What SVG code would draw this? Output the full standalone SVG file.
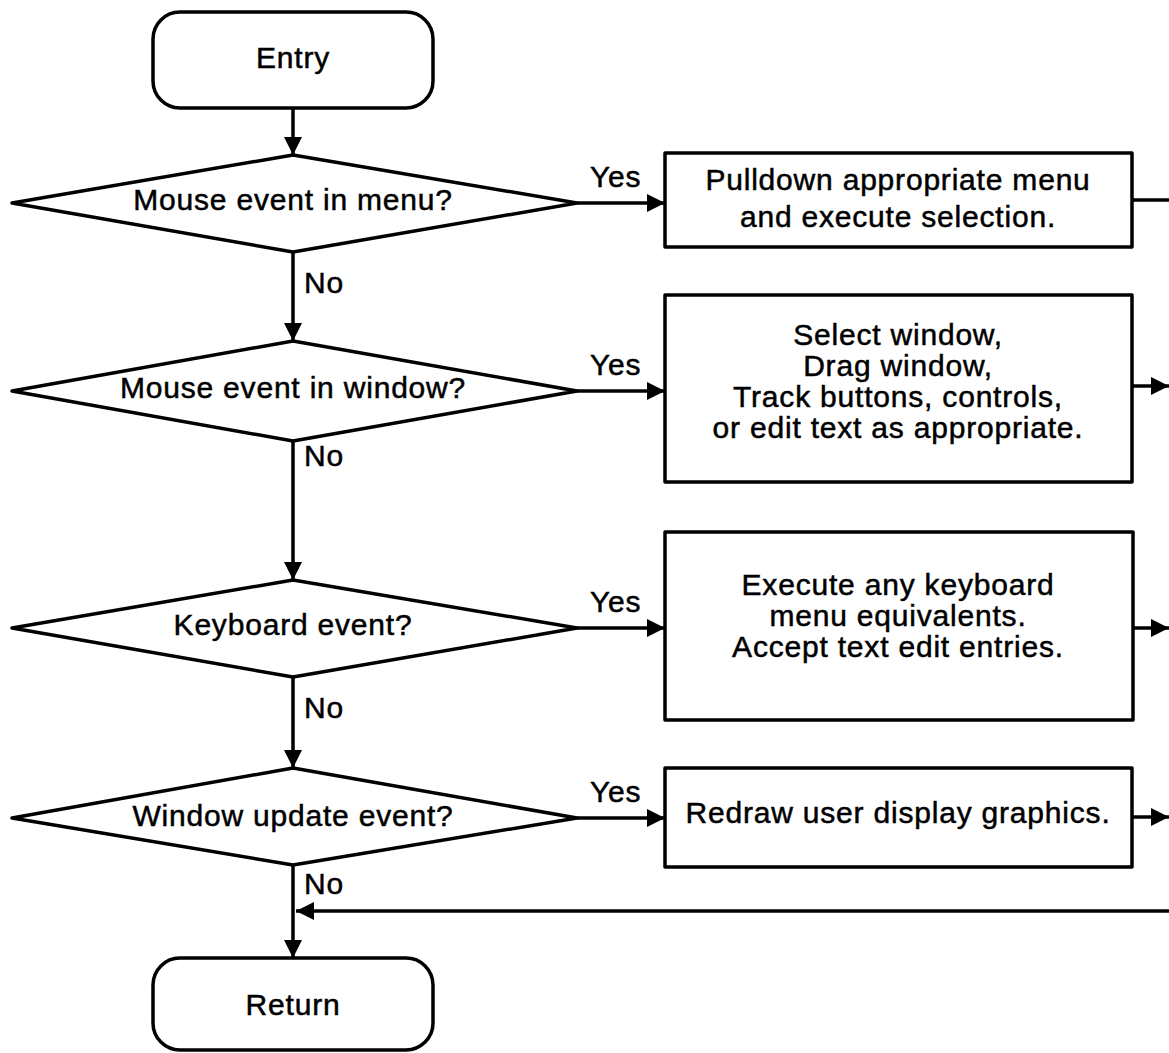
<svg xmlns="http://www.w3.org/2000/svg" width="1169" height="1053" viewBox="0 0 1169 1053">
<style>
  .shape { fill: #fff; stroke: #000; stroke-width: 3.5; stroke-linejoin: round; }
  .line { fill: none; stroke: #000; stroke-width: 3.5; }
  text { font-family: "Liberation Sans", Arial, sans-serif; font-size: 30px; fill: #000; stroke: #000; stroke-width: 0.5; letter-spacing: 0.8px; }
  .c { text-anchor: middle; }
</style>
<defs>
  <marker id="arrow" markerUnits="userSpaceOnUse" markerWidth="18" markerHeight="18" refX="18" refY="9" orient="auto">
    <path d="M0,0 L18,9 L0,18 z" fill="#000"/>
  </marker>
</defs>
<rect width="1169" height="1053" fill="#fff"/>

<g id="connectors">
  <line class="line" x1="293" y1="108" x2="293" y2="155" marker-end="url(#arrow)"/>
  <line class="line" x1="293" y1="252" x2="293" y2="341" marker-end="url(#arrow)"/>
  <line class="line" x1="293" y1="441" x2="293" y2="580" marker-end="url(#arrow)"/>
  <line class="line" x1="293" y1="677" x2="293" y2="768" marker-end="url(#arrow)"/>
  <line class="line" x1="293" y1="865" x2="293" y2="958" marker-end="url(#arrow)"/>
  <line class="line" x1="577" y1="203" x2="665" y2="203" marker-end="url(#arrow)"/>
  <line class="line" x1="577" y1="391" x2="665" y2="391" marker-end="url(#arrow)"/>
  <line class="line" x1="577" y1="628" x2="665" y2="628" marker-end="url(#arrow)"/>
  <line class="line" x1="577" y1="818" x2="665" y2="818" marker-end="url(#arrow)"/>
  <line class="line" x1="1132" y1="200" x2="1169" y2="200"/>
  <line class="line" x1="1132" y1="386" x2="1169" y2="386" marker-end="url(#arrow)"/>
  <line class="line" x1="1133" y1="628" x2="1169" y2="628" marker-end="url(#arrow)"/>
  <line class="line" x1="1132" y1="817" x2="1169" y2="817" marker-end="url(#arrow)"/>
  <line class="line" x1="1169" y1="911" x2="296" y2="911" marker-end="url(#arrow)"/>
  <text x="590" y="187">Yes</text>
  <text x="590" y="375">Yes</text>
  <text x="590" y="612">Yes</text>
  <text x="590" y="802">Yes</text>
  <text x="304" y="293">No</text>
  <text x="304" y="466">No</text>
  <text x="304" y="718">No</text>
  <text x="304" y="894">No</text>
</g>

<g id="entry">
  <rect class="shape" x="153" y="12" width="280" height="96" rx="27"/>
  <text class="c" x="293" y="68">Entry</text>
</g>

<g id="d1">
  <polygon class="shape" points="12,203 293,155 577,203 293,252"/>
  <text class="c" x="293" y="210">Mouse event in menu?</text>
</g>
<g id="d2">
  <polygon class="shape" points="12,391 293,341 577,391 293,441"/>
  <text class="c" x="293" y="398">Mouse event in window?</text>
</g>
<g id="d3">
  <polygon class="shape" points="12,628 293,580 577,628 293,677"/>
  <text class="c" x="293" y="635">Keyboard event?</text>
</g>
<g id="d4">
  <polygon class="shape" points="12,818 293,768 577,818 293,865"/>
  <text class="c" x="293" y="826">Window update event?</text>
</g>

<g id="b1">
  <rect class="shape" x="665" y="153" width="467" height="94"/>
  <text class="c" x="898" y="190">Pulldown appropriate menu</text>
  <text class="c" x="898" y="227">and execute selection.</text>
</g>
<g id="b2">
  <rect class="shape" x="665" y="295" width="467" height="187"/>
  <text class="c" x="898" y="345">Select window,</text>
  <text class="c" x="898" y="376">Drag window,</text>
  <text class="c" x="898" y="407">Track buttons, controls,</text>
  <text class="c" x="898" y="438">or edit text as appropriate.</text>
</g>
<g id="b3">
  <rect class="shape" x="665" y="532" width="468" height="188"/>
  <text class="c" x="898" y="595">Execute any keyboard</text>
  <text class="c" x="898" y="626">menu equivalents.</text>
  <text class="c" x="898" y="657">Accept text edit entries.</text>
</g>
<g id="b4">
  <rect class="shape" x="665" y="768" width="467" height="99"/>
  <text class="c" x="898" y="823">Redraw user display graphics.</text>
</g>

<g id="return">
  <rect class="shape" x="153" y="958" width="280" height="92" rx="27"/>
  <text class="c" x="293" y="1015">Return</text>
</g>
</svg>
